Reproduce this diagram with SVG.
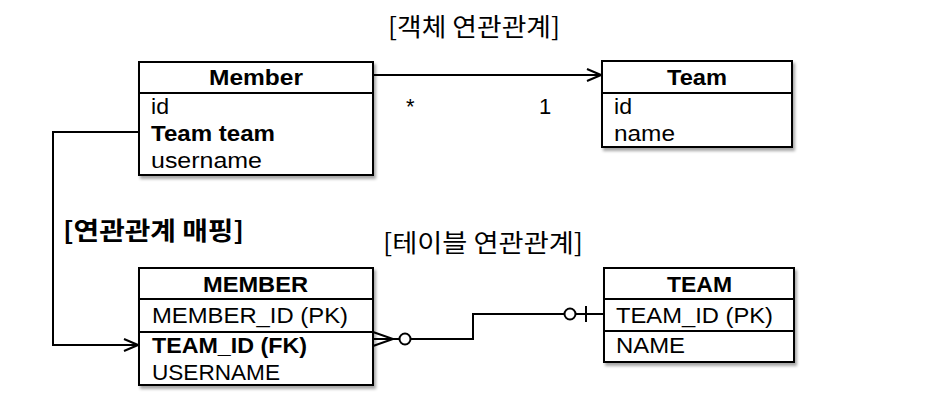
<svg xmlns="http://www.w3.org/2000/svg" width="935" height="401" viewBox="0 0 935 401">
<defs>
<filter id="sh" x="-10%" y="-10%" width="130%" height="130%">
<feDropShadow dx="2" dy="3" stdDeviation="1.5" flood-color="#000" flood-opacity="0.35"/>
</filter>
<marker id="open" viewBox="0 0 16 14" refX="15" refY="7" markerWidth="16" markerHeight="14" markerUnits="userSpaceOnUse" orient="auto">
<path d="M1,1 L15,7 L1,13" fill="none" stroke="#000" stroke-width="2"/>
</marker>
</defs>
<style>
text{font-family:"Liberation Sans","Noto Sans CJK KR",sans-serif;fill:#000}
.t{font-size:22px}
.b{font-weight:bold}
.c{text-anchor:middle}
.k{font-family:"Noto Sans CJK KR",sans-serif;font-size:25px}
.box{fill:#fff;stroke:#000;stroke-width:2}
.ln{fill:none;stroke:#000;stroke-width:2}
</style>
<rect width="935" height="401" fill="#fff"/>
<text class="k" x="388" y="36" textLength="172" lengthAdjust="spacingAndGlyphs">[객체 연관관계]</text>
<text class="k b" x="63" y="240" textLength="181" lengthAdjust="spacingAndGlyphs">[연관관계 매핑]</text>
<text class="k" x="383" y="252" textLength="200" lengthAdjust="spacingAndGlyphs">[테이블 연관관계]</text>

<g id="Member">
<rect class="box" x="139" y="62" width="234" height="113" filter="url(#sh)"/>
<line class="ln" x1="139" y1="93" x2="373" y2="93"/>
<text class="t b" x="209" y="85" textLength="94" lengthAdjust="spacingAndGlyphs">Member</text>
<text class="t" x="151" y="114" textLength="18" lengthAdjust="spacingAndGlyphs">id</text>
<text class="t b" x="151" y="141" textLength="124" lengthAdjust="spacingAndGlyphs">Team team</text>
<text class="t" x="151" y="168" textLength="111" lengthAdjust="spacingAndGlyphs">username</text>
</g>

<g id="Team">
<rect class="box" x="602" y="61" width="190" height="86" filter="url(#sh)"/>
<line class="ln" x1="602" y1="93" x2="792" y2="93"/>
<text class="t b" x="667" y="85" textLength="60" lengthAdjust="spacingAndGlyphs">Team</text>
<text class="t" x="614" y="114" textLength="18" lengthAdjust="spacingAndGlyphs">id</text>
<text class="t" x="614" y="141" textLength="61" lengthAdjust="spacingAndGlyphs">name</text>
</g>

<g id="MEMBER">
<rect class="box" x="139" y="268" width="234" height="117" filter="url(#sh)"/>
<line class="ln" x1="139" y1="299" x2="373" y2="299"/>
<line class="ln" x1="139" y1="332" x2="373" y2="332"/>
<text class="t b" x="203" y="292" textLength="105" lengthAdjust="spacingAndGlyphs">MEMBER</text>
<text class="t" x="152" y="323" textLength="196" lengthAdjust="spacingAndGlyphs">MEMBER_ID (PK)</text>
<text class="t b" x="152" y="353" textLength="155" lengthAdjust="spacingAndGlyphs">TEAM_ID (FK)</text>
<text class="t" x="152" y="380" textLength="128" lengthAdjust="spacingAndGlyphs">USERNAME</text>
</g>

<g id="TEAM">
<rect class="box" x="604" y="268" width="190" height="94" filter="url(#sh)"/>
<line class="ln" x1="604" y1="299" x2="794" y2="299"/>
<line class="ln" x1="604" y1="331" x2="794" y2="331"/>
<text class="t b" x="667" y="292" textLength="65" lengthAdjust="spacingAndGlyphs">TEAM</text>
<text class="t" x="616" y="323" textLength="157" lengthAdjust="spacingAndGlyphs">TEAM_ID (PK)</text>
<text class="t" x="616" y="353" textLength="69" lengthAdjust="spacingAndGlyphs">NAME</text>
</g>

<g id="connectors">
<line class="ln" x1="373" y1="75" x2="601" y2="75" marker-end="url(#open)"/>
<text class="t" x="406" y="114">*</text>
<text class="t" x="539" y="114">1</text>
<polyline class="ln" points="139,132 53,132 53,345 138,345" marker-end="url(#open)"/>
<path class="ln" d="M373,332 L393,339 L373,346 M373,339 L400,339"/>
<circle class="ln" cx="405" cy="339" r="5.5"/>
<polyline class="ln" points="410.5,339 473,339 473,314 564,314"/>
<circle class="ln" cx="570" cy="314" r="5.5"/>
<line class="ln" x1="575.5" y1="314" x2="604" y2="314"/>
<line class="ln" x1="586" y1="306" x2="586" y2="322"/>
</g>
</svg>
